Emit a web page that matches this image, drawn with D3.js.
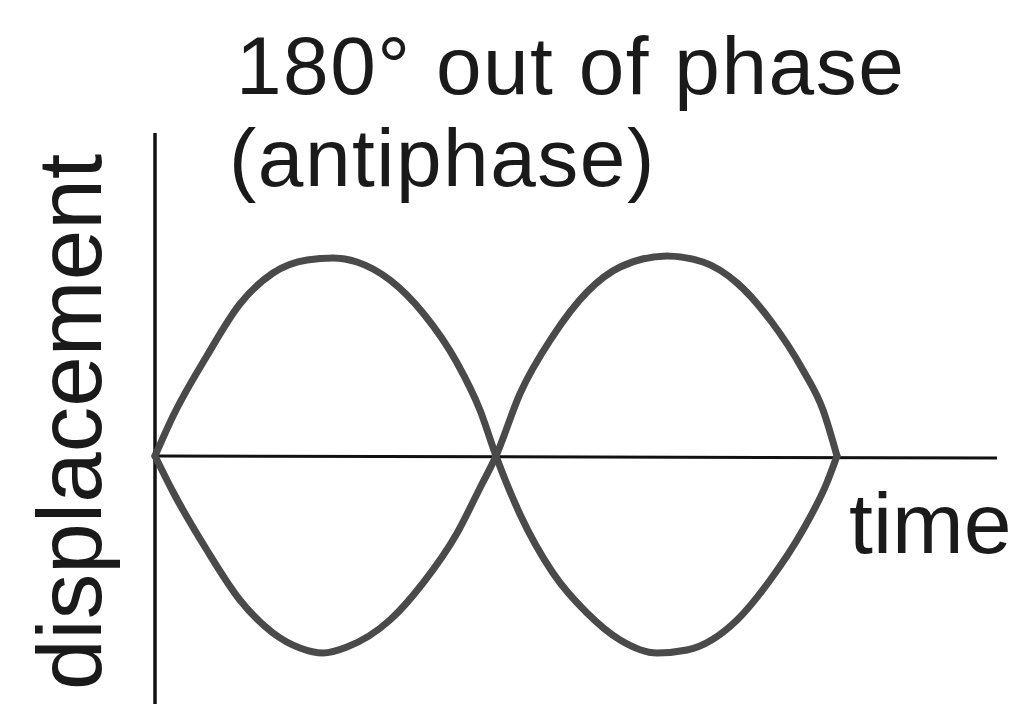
<!DOCTYPE html>
<html>
<head>
<meta charset="utf-8">
<script src="https://cdn.jsdelivr.net/npm/d3@7"></script>
<style>
	body { margin: 0; background: #fff; }
	text { font-family: "Liberation Sans", Arial, sans-serif; fill: #1a1a1a; }
</style>
</head>
<body>
<svg id="chart" width="1019" height="707"></svg>
<script>
// time in half-periods, displacement as fraction of amplitude
let timeA = [0, 0.053, 0.152, 0.249, 0.346, 0.446, 0.522, 0.592, 0.689, 0.786, 0.886, 0.953, 1.0,
	1.07, 1.167, 1.267, 1.364, 1.472, 1.56, 1.707, 1.804, 1.9, 1.97, 2.0];
let waveA = [0, 0.2, 0.5, 0.76, 0.915, 0.98, 0.99, 0.97, 0.88, 0.715, 0.465, 0.23, 0,
	-0.29, -0.585, -0.785, -0.92, -0.985, -0.97, -0.82, -0.62, -0.37, -0.135, 0];

let timeB = [0, 0.053, 0.152, 0.249, 0.346, 0.425, 0.493, 0.563, 0.689, 0.786, 0.886, 0.953, 1.0,
	1.07, 1.167, 1.267, 1.364, 1.501, 1.607, 1.707, 1.804, 1.9, 1.959, 2.0];
let waveB = [0, -0.18, -0.47, -0.72, -0.885, -0.96, -0.985, -0.955, -0.82, -0.635, -0.385, -0.16, 0,
	0.31, 0.6, 0.82, 0.945, 1.0, 0.97, 0.865, 0.68, 0.43, 0.23, 0];

let titleLines = ["180\u00b0 out of phase", "(antiphase)"];
let xLabel = "time";
let yLabel = "displacement";

let svg = d3.select("#chart");

let scaleX = d3.scaleLinear()
	.domain([0, 2])
	.range([155, 837]);

let scaleY = d3.scaleLinear()
	.domain([-1, 1])
	.range([656, 256]);

let line = d3.line()
	.x(d => scaleX(d.t))
	.y(d => scaleY(d.v))
	.curve(d3.curveMonotoneX);

let series = [
	timeA.map((t, i) => ({t: t, v: waveA[i]})),
	timeB.map((t, i) => ({t: t, v: waveB[i]}))
];

// axes (plain lines, no ticks)
svg.append("line")
	.attr("x1", scaleX(0)).attr("x2", 997)
	.attr("y1", scaleY(0)).attr("y2", scaleY(0) + 2)
	.attr("stroke", "#111")
	.attr("stroke-width", 3);

svg.append("line")
	.attr("x1", scaleX(0)).attr("x2", scaleX(0))
	.attr("y1", 133).attr("y2", 704)
	.attr("stroke", "#111")
	.attr("stroke-width", 3.5);

svg.selectAll("path.wave")
	.data(series)
	.join("path")
	.attr("class", "wave")
	.attr("d", line)
	.attr("fill", "none")
	.attr("stroke", "#4a4a4a")
	.attr("stroke-width", 7)
	.attr("stroke-linecap", "round");

svg.selectAll("text.title")
	.data(titleLines)
	.join("text")
	.attr("class", "title")
	.attr("x", (d, i) => i === 0 ? 236 : 229)
	.attr("y", (d, i) => 94 + i * 92)
	.attr("font-size", 82)
	.attr("letter-spacing", 1.5)
	.text(d => d);

svg.append("text")
	.attr("x", 849)
	.attr("y", 553)
	.attr("font-size", 86)
	.text(xLabel);

svg.append("text")
	.attr("transform", "translate(101,690) rotate(-90)")
	.attr("font-size", 91)
	.text(yLabel);
</script>
</body>
</html>
